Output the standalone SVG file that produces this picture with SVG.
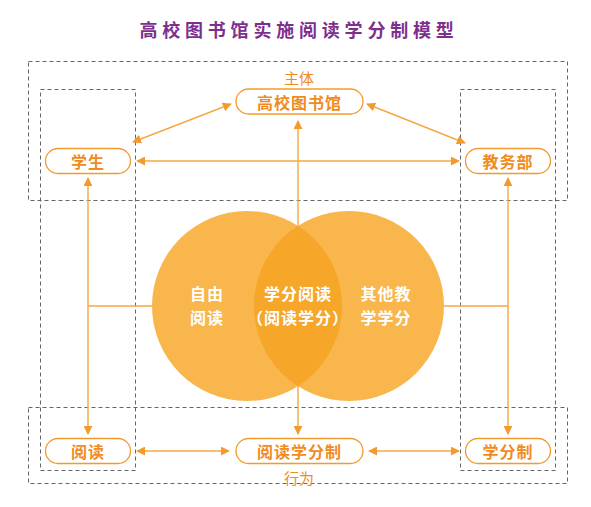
<svg xmlns="http://www.w3.org/2000/svg" width="591" height="507" viewBox="0 0 591 507">
<style>
.dash{fill:none;stroke:#666;stroke-width:1;stroke-dasharray:4 3}
.pill{fill:#fff;stroke:#f39a2e;stroke-width:1.3}
.pt{font-family:"Noto Sans CJK SC",sans-serif;font-weight:bold;font-size:16px;fill:#f08c1e;text-anchor:middle;dominant-baseline:central;letter-spacing:1px}
.lab{font-family:"Noto Sans CJK SC",sans-serif;font-size:15px;fill:#f08c1e;text-anchor:middle;dominant-baseline:central}
.ct{font-family:"Noto Sans CJK SC",sans-serif;font-weight:bold;font-size:16px;fill:#fff;text-anchor:middle;dominant-baseline:central;letter-spacing:1px}
.ln{fill:none;stroke:#f5a842;stroke-width:1.4}
.arr{marker-end:url(#ah)}
.arr2{marker-start:url(#ah);marker-end:url(#ah)}
</style>
<defs>
<marker id="ah" viewBox="0 0 10 10" refX="9" refY="5" markerWidth="9" markerHeight="9" markerUnits="userSpaceOnUse" orient="auto-start-reverse">
<path d="M0,0 L10,5 L0,10 z" fill="#f39a2e"/>
</marker>
<clipPath id="lc"><circle cx="247" cy="306" r="95"/></clipPath>
</defs>
<text x="299" y="29" font-family="Noto Sans CJK SC, sans-serif" font-weight="bold" font-size="18" fill="#7e2f8e" text-anchor="middle" dominant-baseline="central" letter-spacing="4.8">高校图书馆实施阅读学分制模型</text>

<g id="frames">
<rect class="dash" x="28.5" y="61.5" width="539" height="139"/>
<rect class="dash" x="28.5" y="407.5" width="539" height="76"/>
<rect class="dash" x="40.5" y="89.5" width="95" height="381"/>
<rect class="dash" x="460.5" y="89.5" width="95" height="381"/>
</g>

<g id="venn">
<circle cx="247" cy="306" r="95" fill="#f8b64c"/>
<circle cx="349" cy="306" r="95" fill="#f8b64c"/>
<circle cx="349" cy="306" r="95" fill="#f6a628" clip-path="url(#lc)"/>
<text class="ct" x="207" y="293">自由</text>
<text class="ct" x="207" y="317">阅读</text>
<text class="ct" x="298" y="293">学分阅读</text>
<text class="ct" x="298" y="317">（阅读学分）</text>
<text class="ct" x="386" y="293">其他教</text>
<text class="ct" x="386" y="317">学学分</text>
</g>

<g id="connectors">
<line class="ln arr2" x1="133" y1="142" x2="231" y2="104"/>
<line class="ln arr2" x1="367" y1="104" x2="465" y2="143"/>
<line class="ln arr2" x1="137" y1="161" x2="459" y2="161"/>
<line class="ln arr" x1="298" y1="226" x2="298" y2="121"/>
<line class="ln arr" x1="298" y1="386" x2="298" y2="434"/>
<line class="ln arr2" x1="88" y1="178" x2="88" y2="434"/>
<line class="ln" x1="88" y1="306" x2="152" y2="306"/>
<line class="ln arr2" x1="508" y1="178" x2="508" y2="434"/>
<line class="ln" x1="444" y1="306" x2="508" y2="306"/>
<line class="ln arr2" x1="137" y1="451" x2="229" y2="451"/>
<line class="ln arr2" x1="369" y1="451" x2="459" y2="451"/>
</g>

<text class="lab" x="299" y="77">主体</text>
<text class="lab" x="299" y="477">行为</text>

<g id="n-lib"><rect class="pill" x="236" y="89" width="127" height="25" rx="12.5"/><text class="pt" x="299.5" y="101.5">高校图书馆</text></g>
<g id="n-stu"><rect class="pill" x="45.5" y="148.5" width="85" height="25" rx="12.5"/><text class="pt" x="88" y="161">学生</text></g>
<g id="n-jwb"><rect class="pill" x="465.5" y="148.5" width="85" height="25" rx="12.5"/><text class="pt" x="508" y="161">教务部</text></g>
<g id="n-read"><rect class="pill" x="45.5" y="438.5" width="85" height="25" rx="12.5"/><text class="pt" x="88" y="451">阅读</text></g>
<g id="n-ydxf"><rect class="pill" x="236" y="438.5" width="127" height="25" rx="12.5"/><text class="pt" x="299.5" y="451">阅读学分制</text></g>
<g id="n-xfz"><rect class="pill" x="465.5" y="438.5" width="85" height="25" rx="12.5"/><text class="pt" x="508" y="451">学分制</text></g>
</svg>
